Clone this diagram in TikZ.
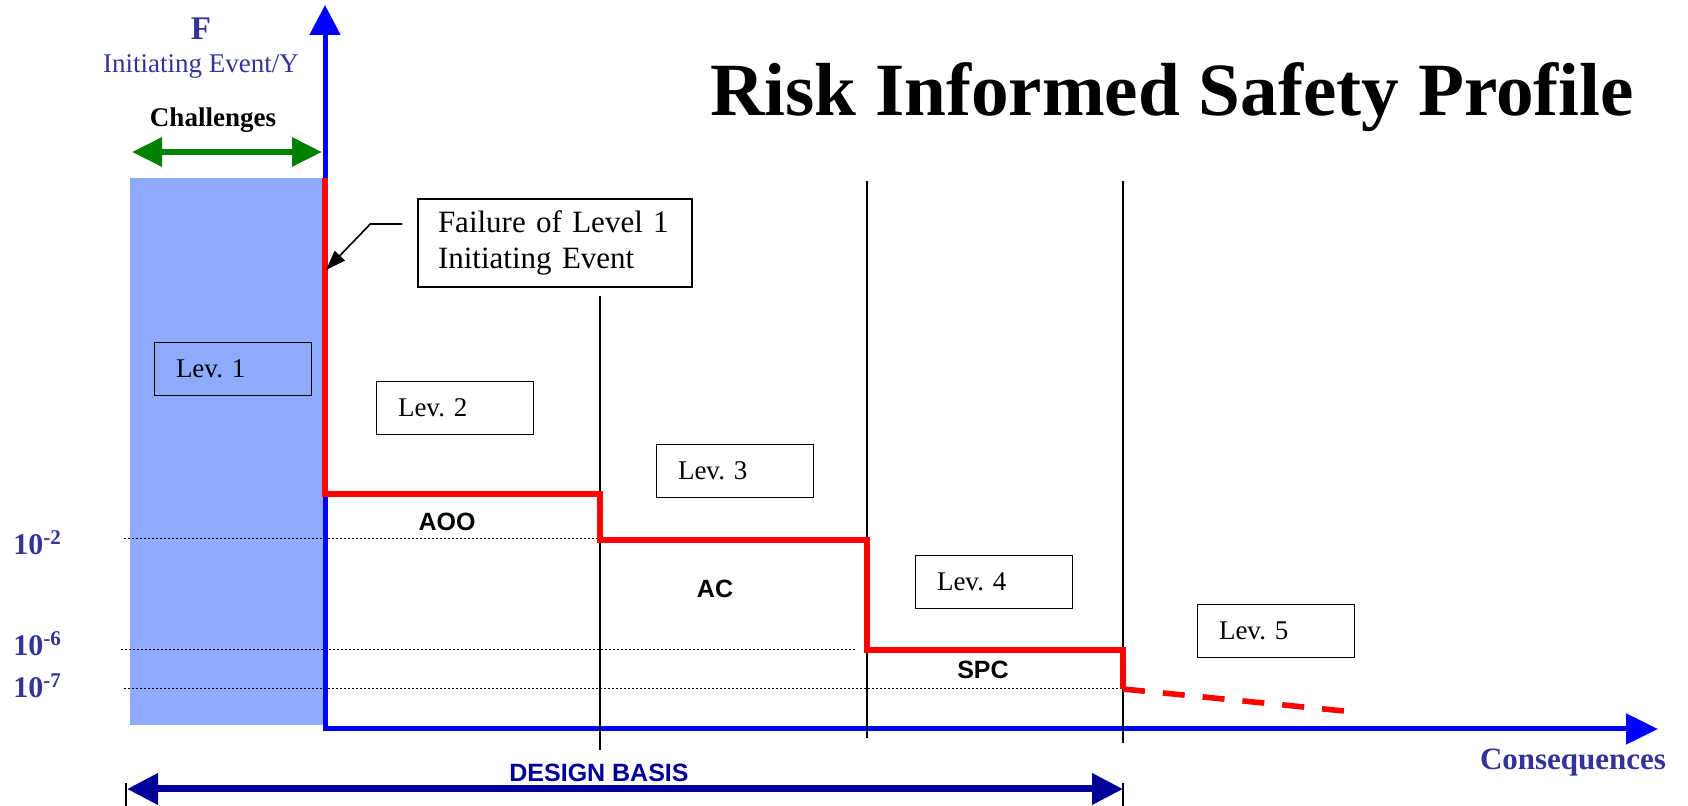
\documentclass[tikz,border=0pt]{standalone}
\usepackage{fontspec}
\setmainfont{Liberation Serif}
\setsansfont{Liberation Sans}
\usetikzlibrary{positioning,arrows.meta}
\frenchspacing

\definecolor{axisblue}{RGB}{0,0,255}
\definecolor{shadeblue}{RGB}{143,171,255}
\definecolor{labelblue}{RGB}{51,51,153}
\definecolor{navyblue}{RGB}{0,0,153}
\definecolor{arrowgreen}{RGB}{0,128,0}

\begin{document}
\begin{tikzpicture}[x=0.5pt,y=-0.5pt]

\tikzstyle{levbox} = [draw, line width=0.7pt, rectangle, minimum width=78.5pt, minimum height=26.5pt, text width=57pt, align=left, inner xsep=10.5pt, inner ysep=0pt, font=\fontsize{13.5}{16}\selectfont]
\tikzstyle{zone} = [font=\sffamily\bfseries\fontsize{12.5}{15}\selectfont, anchor=base]
\tikzstyle{freq} = [font=\bfseries\fontsize{15}{18}\selectfont, text=labelblue, anchor=base west, inner sep=0]
\tikzstyle{axis} = [draw=axisblue, line width=2.5pt, {Triangle[length=15pt,width=15pt]}-{Triangle[length=16pt,width=15pt]}]
\tikzstyle{profile} = [draw=red, line width=2.8pt]
\tikzstyle{divider} = [draw=black, line width=0.7pt]
\tikzstyle{level} = [draw=black, line width=0.5pt, dash pattern=on 0.8pt off 1.2pt]

\useasboundingbox (0,0) rectangle (1688,806);

% challenge band
\fill [shadeblue] (130,178) rectangle (323,725);

% frequency levels
\coordinate (f2a) at (124,539);  \coordinate (f2b) at (855,539);
\coordinate (f6a) at (121,650);  \coordinate (f6b) at (855,650);
\coordinate (f7a) at (124,689);  \coordinate (f7b) at (1123,689);
\draw [level] (f2a) -- (f2b);
\draw [level] (f6a) -- (f6b);
\draw [level] (f7a) -- (f7b);
\node [freq] (e2) at (13,555) {10\textsuperscript{-2}};
\node [freq] (e6) at (13,656) {10\textsuperscript{-6}};
\node [freq] (e7) at (13,698) {10\textsuperscript{-7}};

% axes
\coordinate (ytip) at (325,5);
\coordinate (origin) at (325,729);
\coordinate (xtip) at (1658,729);
\draw [axis] (ytip) -- (origin) -- (xtip);

% dividers
\coordinate (d1t) at (600,296);  \coordinate (d1b) at (600,750);
\coordinate (d2t) at (867,181);  \coordinate (d2b) at (867,738);
\coordinate (d3t) at (1123,181); \coordinate (d3b) at (1123,743);
\draw [divider] (d1t) -- (d1b);
\draw [divider] (d2t) -- (d2b);
\draw [divider] (d3t) -- (d3b);

% safety profile
\coordinate (p0) at (325,178);
\coordinate (hit) at (326,270);
\coordinate (p1) at (325,494);  \coordinate (p2) at (600,494);
\coordinate (p3) at (600,540);  \coordinate (p4) at (867,540);
\coordinate (p5) at (867,650);  \coordinate (p6) at (1123,650);
\coordinate (p7) at (1123,689); \coordinate (p8) at (1354,712);
\draw [profile, line join=miter] (p0) -- (p1) -- (p2) -- (p3) -- (p4) -- (p5) -- (p6) -- (p7);
\draw [profile, dash pattern=on 11pt off 9pt] (p7) -- (p8);

% levels
\node [levbox] (lev1) at (233,369) {Lev. 1};
\node [levbox] (lev2) at (455,408) {Lev. 2};
\node [levbox] (lev3) at (735,471) {Lev. 3};
\node [levbox] (lev4) at (994,582) {Lev. 4};
\node [levbox] (lev5) at (1276,631) {Lev. 5};

\node [zone] (aoo) at (447,531) {AOO};
\node [zone] (ac) at (715,598) {AC};
\node [zone] (spc) at (983,679) {SPC};

% failure callout
\node [draw, line width=0.7pt, minimum width=137pt, minimum height=44pt, text width=117pt, align=left, inner xsep=10pt, inner ysep=0pt, font=\fontsize{15.5}{18}\selectfont] (fail) at (555,243) {Failure of Level 1\\Initiating Event};
\draw [line width=0.8pt, -{Triangle[length=10pt,width=7pt]}] ([xshift=-7.5pt,yshift=9.5pt]fail.west) -- ++(-32,0) -- (hit);

% y axis labels
\node [font=\bfseries\fontsize{16.5}{19}\selectfont, text=labelblue, anchor=base] (F) at (201,40) {F};
\node [font=\fontsize{13.5}{16}\selectfont, text=labelblue, anchor=base] (ie) at (201,73) {Initiating Event/Y};
\node [font=\bfseries\fontsize{13.5}{16}\selectfont, anchor=base] (chal) at (213,127) {Challenges};
\coordinate (ca) at (132,152); \coordinate (cb) at (322,152);
\draw [draw=arrowgreen, line width=3pt, {Triangle[length=15pt,width=14pt]}-{Triangle[length=15pt,width=14pt]}] (ca) -- (cb);

% title
\node [font=\bfseries\fontsize{37.6}{44}\selectfont, anchor=base] (title) at (1172,116) {Risk Informed Safety Profile};

% consequences
\node [font=\bfseries\fontsize{15.5}{18}\selectfont, text=labelblue, anchor=base] (cons) at (1573,770) {Consequences};

% design basis
\coordinate (ba) at (127,789); \coordinate (bb) at (1123,789);
\coordinate (t1a) at (126,783); \coordinate (t1b) at (126,806);
\coordinate (t2a) at (1123,783); \coordinate (t2b) at (1123,806);
\draw [line width=0.9pt] (t1a) -- (t1b);
\draw [line width=0.9pt] (t2a) -- (t2b);
\draw [draw=navyblue, line width=3.5pt, {Triangle[length=15.5pt,width=15pt]}-{Triangle[length=15.5pt,width=15pt]}] (ba) -- (bb);
\node [zone, text=navyblue] (db) at (599,782) {DESIGN BASIS};

\end{tikzpicture}
\end{document}
